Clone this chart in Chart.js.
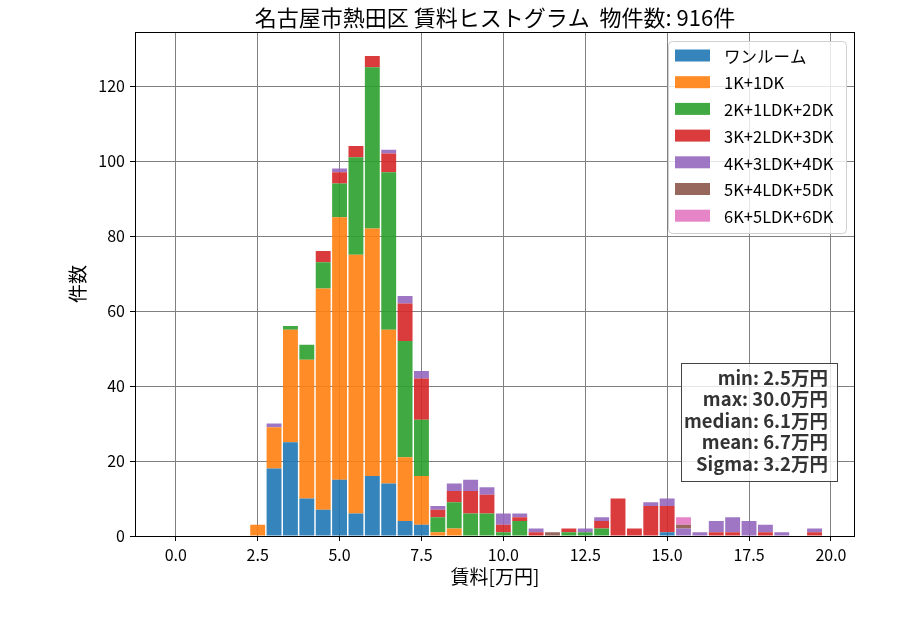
<!DOCTYPE html>
<html>
<head>
<meta charset="utf-8">
<script src="https://cdn.jsdelivr.net/npm/chart.js@4.4.1/dist/chart.umd.min.js"></script>
<style>
  html, body { margin: 0; padding: 0; background: #fff; }
</style>
</head>
<body>
<canvas id="chart" width="900" height="630"></canvas>
<script>
// bin centres [万円]
const binCenters = [2.5, 3.0, 3.5, 4.0, 4.5, 5.0, 5.5, 6.0, 6.5, 7.0, 7.5, 8.0, 8.5, 9.0, 9.5, 10.0, 10.5, 11.0, 11.5, 12.0,
  12.5, 13.0, 13.5, 14.0, 14.5, 15.0, 15.5, 16.0, 16.5, 17.0, 17.5, 18.0, 18.5, 19.0, 19.5];

const oneRoom = [0, 18, 25, 10, 7, 15, 6, 16, 14, 4, 3, 0, 0, 0, 0, 0, 0, 0, 0, 0,
  0, 0, 0, 0, 0, 1, 0, 0, 0, 0, 0, 0, 0, 0, 0];
const k1 = [3, 11, 30, 37, 59, 70, 69, 66, 41, 17, 13, 1, 2, 0, 0, 0, 0, 0, 0, 0,
  0, 0, 0, 0, 0, 0, 0, 0, 0, 0, 0, 0, 0, 0, 0];
const k2 = [0, 0, 1, 4, 7, 9, 26, 43, 42, 31, 15, 4, 7, 6, 6, 1, 4, 0, 0, 1,
  1, 2, 0, 0, 0, 0, 0, 0, 0, 0, 0, 0, 0, 0, 0];
const k3 = [0, 0, 0, 0, 3, 3, 3, 3, 5, 10, 11, 2, 3, 6, 5, 2, 1, 1, 0, 1,
  0, 2, 10, 2, 8, 7, 0, 0, 1, 1, 0, 1, 0, 0, 1];
const k4 = [0, 1, 0, 0, 0, 1, 0, 0, 1, 2, 2, 1, 2, 3, 2, 3, 1, 1, 0, 0,
  1, 1, 0, 0, 1, 2, 2, 1, 3, 4, 4, 2, 1, 0, 1];
const k5 = [0, 0, 0, 0, 0, 0, 0, 0, 0, 0, 0, 0, 0, 0, 0, 0, 0, 0, 1, 0,
  0, 0, 0, 0, 0, 0, 1, 0, 0, 0, 0, 0, 0, 0, 0];
const k6 = [0, 0, 0, 0, 0, 0, 0, 0, 0, 0, 0, 0, 0, 0, 0, 0, 0, 0, 0, 0,
  0, 0, 0, 0, 0, 0, 2, 0, 0, 0, 0, 0, 0, 0, 0];

const seriesNames = ['ワンルーム', '1K+1DK', '2K+1LDK+2DK', '3K+2LDK+3DK', '4K+3LDK+4DK', '5K+4LDK+5DK', '6K+5LDK+6DK'];
const seriesValues = [oneRoom, k1, k2, k3, k4, k5, k6];
const seriesColors = ['rgba(31,119,180,0.9)', 'rgba(255,127,14,0.9)', 'rgba(44,160,44,0.9)', 'rgba(214,39,40,0.9)',
  'rgba(148,103,189,0.9)', 'rgba(140,86,75,0.9)', 'rgba(227,119,194,0.9)'];

const xTicks = [0, 2.5, 5, 7.5, 10, 12.5, 15, 17.5, 20];
const yTicks = [0, 20, 40, 60, 80, 100, 120];

const statNames = ['min', 'max', 'median', 'mean', 'Sigma'];
const statValues = ['2.5', '30.0', '6.1', '6.7', '3.2'];

const FONT = '"Noto Sans CJK JP", "Noto Sans", sans-serif';
Chart.defaults.font.family = FONT;
Chart.defaults.color = '#000';

// legend + stats box + frame drawn on top, like matplotlib
const overlay = {
  id: 'overlay',
  afterDraw(chart) {
    const { ctx, chartArea: a } = chart;
    ctx.save();
    ctx.strokeStyle = '#000';
    ctx.lineWidth = 1;
    ctx.strokeRect(Math.round(a.left) + 0.5, Math.round(a.top) + 0.5, Math.round(a.right - a.left) - 1, Math.round(a.bottom - a.top));

    // legend
    const lw = 178, lh = 192;
    const lx = a.right - 9 - lw, ly = a.top + 9;
    ctx.beginPath();
    ctx.roundRect(lx + 0.5, ly + 0.5, lw, lh, 4);
    ctx.fillStyle = 'rgba(255,255,255,0.8)';
    ctx.fill();
    ctx.strokeStyle = '#d0d0d0';
    ctx.stroke();
    ctx.font = '16.5px ' + FONT;
    ctx.textBaseline = 'middle';
    ctx.textAlign = 'left';
    seriesNames.forEach((name, i) => {
      const cy = ly + 14.5 + i * 26.7;
      ctx.fillStyle = seriesColors[i];
      ctx.fillRect(lx + 7, cy - 6, 35, 12);
      ctx.fillStyle = '#000';
      ctx.fillText(name, lx + 56, cy + 1);
    });

    // stats box
    const bw = 156, bh = 118;
    const bx = a.right - 18 - bw, by = a.bottom - 55 - bh;
    ctx.fillStyle = 'rgba(255,255,255,0.8)';
    ctx.fillRect(bx, by, bw, bh);
    ctx.strokeStyle = '#444';
    ctx.strokeRect(Math.round(bx) + 0.5, Math.round(by) + 0.5, bw, bh);
    ctx.font = 'bold 18.5px ' + FONT;
    ctx.fillStyle = '#333';
    ctx.textAlign = 'right';
    statNames.forEach((n, i) => {
      ctx.fillText(n + ': ' + statValues[i] + '万円', bx + bw - 9, by + 15 + i * 21.4);
    });
    ctx.restore();
  }
};

new Chart(document.getElementById('chart'), {
  type: 'bar',
  data: {
    datasets: seriesValues.map((vals, i) => ({
      label: seriesNames[i],
      data: binCenters.map((x, j) => ({ x: x, y: vals[j] })),
      backgroundColor: seriesColors[i],
      borderWidth: 0,
      barPercentage: 0.91,
      categoryPercentage: 1.0
    }))
  },
  options: {
    responsive: false,
    animation: false,
    layout: { padding: { left: 0, right: 45, top: 0, bottom: 0 } },
    plugins: {
      legend: { display: false },
      tooltip: { enabled: false },
      title: {
        display: true,
        fullSize: false,
        text: '名古屋市熱田区 賃料ヒストグラム  物件数: 916件',
        font: { size: 22, weight: 'normal' },
        color: '#000',
        padding: { top: 4, bottom: 1.6 }
      }
    },
    scales: {
      x: {
        type: 'linear',
        stacked: true,
        offset: false,
        min: -1.245,
        max: 20.735,
        z: 1,
        afterBuildTicks: s => { s.ticks = xTicks.map(v => ({ value: v })); },
        afterFit: s => { s.height = 94; },
        grid: { color: '#808080', lineWidth: 1, offset: false, tickLength: 5, tickColor: '#000' },
        border: { display: false },
        ticks: { font: { size: 16 }, color: '#000', padding: 4, maxRotation: 0, callback: v => v.toFixed(1) },
        title: { display: true, text: '賃料[万円]', font: { size: 19 }, color: '#000', padding: { top: 0, bottom: 42 } }
      },
      y: {
        stacked: true,
        min: 0,
        max: 134.4,
        z: 1,
        afterBuildTicks: s => { s.ticks = yTicks.map(v => ({ value: v })); },
        afterFit: s => { s.width = 135; },
        grid: { color: '#808080', lineWidth: 1, tickLength: 5, tickColor: '#000' },
        border: { display: false },
        ticks: { font: { size: 16 }, color: '#000', padding: 5 },
        title: { display: true, text: '件数', font: { size: 19 }, color: '#000', padding: { top: 66, bottom: 0 } }
      }
    }
  },
  plugins: [overlay]
});
</script>
</body>
</html>
